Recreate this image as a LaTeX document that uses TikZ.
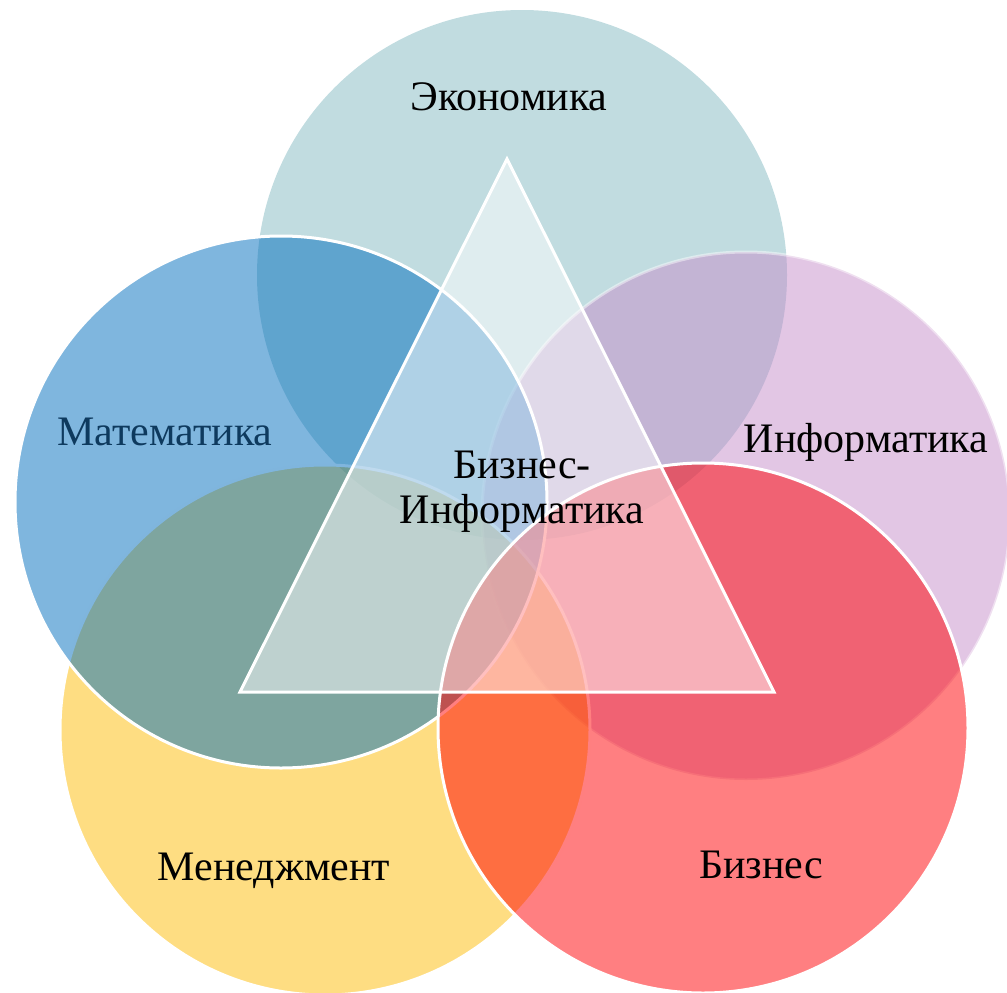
\documentclass[tikz,border=0pt]{standalone}
\usepackage{fontspec}
\setmainfont{Liberation Serif}
\usepackage{xcolor}
\usepackage{tikz}
\usetikzlibrary{positioning}

\definecolor{econ}{HTML}{83B9C1}
\definecolor{math}{HTML}{006DBD}
\definecolor{info}{HTML}{C58DC9}
\definecolor{mgmt}{HTML}{FDBB05}
\definecolor{biz}{HTML}{FF0003}
\definecolor{mathtext}{HTML}{0E3A5E}

\begin{document}
\begin{tikzpicture}[x=1pt,y=-1pt,
		disc/.style={fill opacity=0.5},
		rim/.style={draw=white,line width=3pt},
		faintrim/.style={draw=white,draw opacity=0.45,line width=3pt},
		label/.style={font=\fontsize{42}{45}\selectfont,align=center}
	]
		\useasboundingbox (0,0) rectangle (1007,993);
		
		% circles
		\fill [econ, disc] (522,275) circle [radius=265];
		\fill [info, disc] (746,516) circle [radius=264];
		\draw [faintrim] (746,516) circle [radius=264];
		\fill [mgmt, disc] (325,730) circle [radius=265];
		\draw [rim] (325,730) circle [radius=265];
		\fill [math, disc] (281,502) circle [radius=266];
		\draw [rim] (281,502) circle [radius=266];
		\fill [biz, disc] (703,728) circle [radius=265];
		\draw [rim] (703,728) circle [radius=265];
		
		% triangle
		\coordinate (top) at (507,159);
		\coordinate (left) at (240,692);
		\coordinate (right) at (774,692);
		\draw [white, line width=3pt, line join=miter, fill=white, fill opacity=0.5] (top) -- (left) -- (right) -- cycle;
		
		\node [label] (econ) at (509,97) {Экономика};
		\node [label, text=mathtext] (math) at (165,432) {Математика};
		\node [label] (info) at (866,442) {Информатика};
		\node [label] (mgmt) at (274,871) {Менеджмент};
		\node [label] (biz) at (761,865) {Бизнес};
		\node [label] (bi) at (522,492) {Бизнес-\\Информатика};
\end{tikzpicture}
\end{document}
